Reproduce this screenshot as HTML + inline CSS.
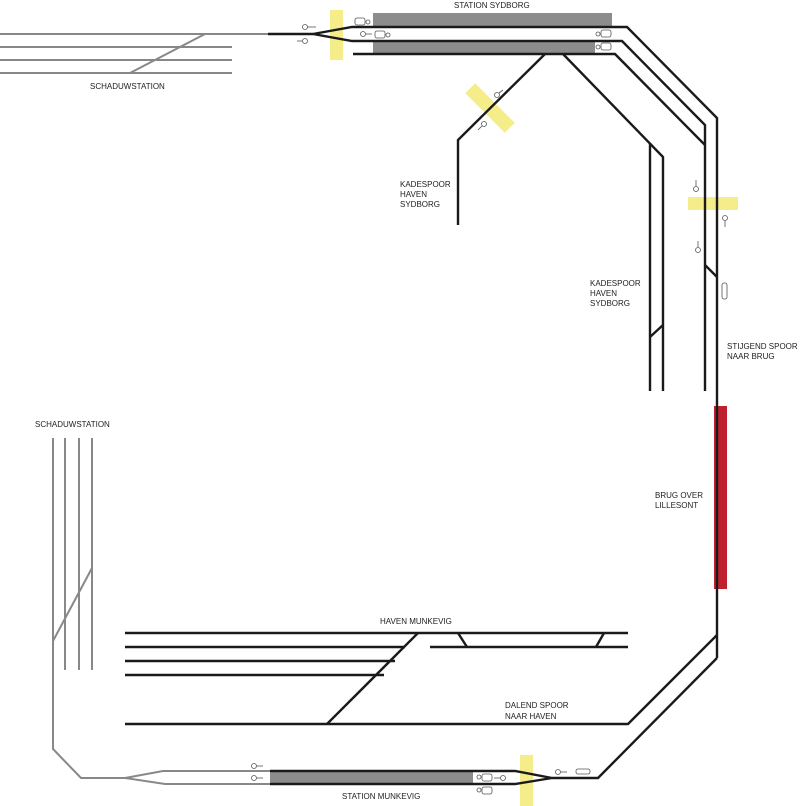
<!DOCTYPE html>
<html><head><meta charset="utf-8"><style>
html,body{margin:0;padding:0;background:#fff;}
svg{display:block;}
text{font-family:"Liberation Sans",sans-serif;font-size:8px;fill:#222;}
</style></head><body>
<svg width="800" height="806" viewBox="0 0 800 806" xmlns="http://www.w3.org/2000/svg">
<rect x="330" y="10" width="13" height="50" fill="#f5ec8a"/>
<rect x="688" y="197" width="50" height="13" fill="#f5ec8a"/>
<rect x="520" y="755" width="13" height="51" fill="#f5ec8a"/>
<rect x="462" y="101" width="56" height="14" fill="#f5ec8a" transform="rotate(45 490 108)"/>
<rect x="373" y="13" width="239" height="14" fill="#8c8c8c"/>
<rect x="373" y="41" width="222" height="13" fill="#8c8c8c"/>
<rect x="270" y="771" width="203" height="13" fill="#8c8c8c"/>
<rect x="714" y="406" width="13" height="183" fill="#c0202e"/>

<g stroke="#888" stroke-width="2" fill="none">
<line x1="0" y1="34" x2="268" y2="34"/>
<line x1="0" y1="47" x2="232" y2="47"/>
<line x1="0" y1="60" x2="232" y2="60"/>
<line x1="0" y1="73" x2="232" y2="73"/>
<line x1="205" y1="34" x2="130" y2="73"/>
<polyline points="53,438 53,749 81,778 125,778"/>
<line x1="65" y1="438" x2="65" y2="670"/>
<line x1="79" y1="438" x2="79" y2="670"/>
<line x1="92" y1="438" x2="92" y2="670"/>
<line x1="53" y1="641" x2="92" y2="568"/>
<polyline points="270,771 163,771 125,778 165,784 270,784"/>
</g>

<g stroke="#1a1a1a" stroke-width="2.4" fill="none">
<line x1="268" y1="34" x2="313" y2="34"/>
<polyline points="313,34 352,27 627,27 717,118 717,658"/>
<polyline points="313,34 352,41 622,41 705,125 705,265 717,277"/>
<polyline points="353,54 615,54 700,140 705,145"/>
<line x1="705" y1="265" x2="705" y2="391"/>
<polyline points="545,54 458,140 458,225"/>
<polyline points="563,54 663,157 663,391"/>
<line x1="650" y1="143" x2="650" y2="391"/>
<line x1="650" y1="337" x2="663" y2="325"/>
<polyline points="717,635 628,724 125,724"/>
<polyline points="717,658 598,778 552,778"/>
<line x1="125" y1="633" x2="628" y2="633"/>
<line x1="125" y1="647" x2="405" y2="647"/>
<line x1="125" y1="661" x2="395" y2="661"/>
<line x1="125" y1="675" x2="384" y2="675"/>
<line x1="418" y1="633" x2="327" y2="724"/>
<line x1="430" y1="647" x2="628" y2="647"/>
<line x1="458" y1="633" x2="467" y2="647"/>
<line x1="604" y1="633" x2="596" y2="647"/>
<polyline points="270,771 515,771 552,778"/>
<polyline points="270,784 515,784 552,778"/>
</g>

<g stroke="#555" stroke-width="0.8" fill="#fff">
<circle cx="305" cy="27" r="2.5"/><line x1="308" y1="27" x2="316" y2="27"/>
<circle cx="305" cy="41" r="2.5"/><line x1="297" y1="41" x2="302" y2="41"/>
<rect x="355" y="18" width="10" height="7" rx="2"/><circle cx="368" cy="22" r="2"/>
<rect x="375" y="31" width="10" height="7" rx="2"/><circle cx="388" cy="35" r="2"/>
<circle cx="363" cy="34" r="2.5"/><line x1="366" y1="34" x2="372" y2="34"/>
<rect x="601" y="30" width="10" height="7" rx="2"/><circle cx="598" cy="34" r="2"/>
<rect x="601" y="43" width="10" height="7" rx="2"/><circle cx="598" cy="47" r="2"/>
<circle cx="497" cy="95" r="2.5"/><line x1="499" y1="93" x2="503" y2="90"/>
<circle cx="484" cy="124" r="2.5"/><line x1="482" y1="126" x2="478" y2="130"/>
<circle cx="696" cy="189" r="2.5"/><line x1="696" y1="180" x2="696" y2="186"/>
<circle cx="725" cy="218" r="2.5"/><line x1="725" y1="221" x2="725" y2="227"/>
<circle cx="698" cy="250" r="2.5"/><line x1="698" y1="241" x2="698" y2="247"/>
<rect x="722" y="283" width="5" height="16" rx="2"/>
<circle cx="254" cy="766" r="2.5"/><line x1="257" y1="766" x2="263" y2="766"/>
<circle cx="254" cy="778" r="2.5"/><line x1="257" y1="778" x2="263" y2="778"/>
<rect x="482" y="774" width="10" height="7" rx="2"/><circle cx="479" cy="777" r="2"/>
<circle cx="503" cy="778" r="2.5"/><line x1="494" y1="778" x2="500" y2="778"/>
<rect x="482" y="787" width="10" height="7" rx="2"/><circle cx="479" cy="790" r="2"/>
<circle cx="558" cy="772" r="2.5"/><line x1="561" y1="772" x2="567" y2="772"/>
<rect x="576" y="769" width="14" height="5" rx="2"/>
</g>

<text x="454" y="8">STATION SYDBORG</text>
<text x="90" y="89">SCHADUWSTATION</text>
<text x="400" y="187">KADESPOOR</text>
<text x="400" y="197">HAVEN</text>
<text x="400" y="207">SYDBORG</text>
<text x="590" y="286">KADESPOOR</text>
<text x="590" y="296">HAVEN</text>
<text x="590" y="306">SYDBORG</text>
<text x="727" y="349">STIJGEND SPOOR</text>
<text x="727" y="359">NAAR BRUG</text>
<text x="35" y="427">SCHADUWSTATION</text>
<text x="655" y="498">BRUG OVER</text>
<text x="655" y="508">LILLESONT</text>
<text x="380" y="624">HAVEN MUNKEVIG</text>
<text x="505" y="708">DALEND SPOOR</text>
<text x="505" y="719">NAAR HAVEN</text>
<text x="342" y="799">STATION MUNKEVIG</text>
</svg>
</body></html>
